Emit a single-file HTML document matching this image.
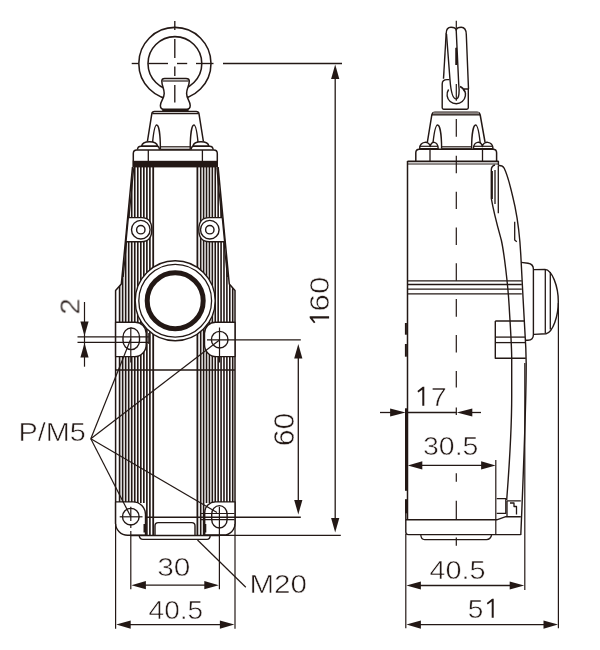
<!DOCTYPE html>
<html><head><meta charset="utf-8"><title>Dimension drawing</title>
<style>
html,body{margin:0;padding:0;background:#fff;}
body{width:600px;height:650px;overflow:hidden;font-family:"Liberation Sans",sans-serif;}
svg{display:block;}
svg text{stroke:#fff;stroke-width:0.55px;fill:#231815;font-family:"Liberation Sans",sans-serif;}
</style></head><body>
<svg width="600" height="650" viewBox="0 0 600 650" fill="none" stroke="#231815" stroke-linecap="butt" stroke-linejoin="round">
<rect x="0" y="0" width="600" height="650" fill="#fff" stroke="none"/>
<circle cx="174.9" cy="63.5" r="36.1" stroke-width="1.55" fill="none"/>
<circle cx="174.9" cy="63.5" r="26.9" stroke-width="1.55" fill="none"/>
<line x1="131.7" y1="63.5" x2="138.3" y2="63.5" stroke-width="1.35" />
<line x1="148.3" y1="63.5" x2="168" y2="63.5" stroke-width="1.35" />
<line x1="177" y1="63.5" x2="187.2" y2="63.5" stroke-width="1.35" />
<line x1="196" y1="63.5" x2="213.5" y2="63.5" stroke-width="1.35" />
<line x1="174.8" y1="21" x2="174.8" y2="30" stroke-width="1.35" />
<line x1="174.8" y1="39" x2="174.8" y2="58" stroke-width="1.35" />
<line x1="174.8" y1="66.5" x2="174.8" y2="76" stroke-width="1.35" />
<path d="M164.6,78.4 L186,78.4 Q189.3,78.4 189.3,81 C189.3,86 186.6,88 186.6,93.5 C186.6,99 190.2,101 190.2,105.5 Q190.2,109.2 186.8,109.2 L163.6,109.2 Q160.4,109.2 160.4,105.5 C160.4,101 164.2,99 164.2,93.5 C164.2,88 161.8,86 161.8,81 Q161.8,78.4 164.6,78.4 Z" stroke-width="1.5" fill="#fff" />
<line x1="162.6" y1="81" x2="188.6" y2="81" stroke-width="1.2" />
<line x1="162.2" y1="110.2" x2="188.6" y2="110.2" stroke-width="2.2" />
<line x1="174.8" y1="85" x2="174.8" y2="102.5" stroke-width="1.35" />
<path d="M154.5,111.6 L196.2,111.6 Q198.6,111.6 199,113.8 L203.4,141.5 M154.5,111.6 Q152.2,111.6 151.8,113.8 L147.4,141.5" stroke-width="1.5" fill="none" />
<line x1="152.4" y1="113.6" x2="198.4" y2="113.6" stroke-width="1.2" />
<path d="M152.2,146.5 C153.4,132 154.8,125 156.7,125 C158.8,125 160.4,135 160.4,149.4" stroke-width="1.4" fill="none" />
<path d="M198.4,146.5 C197.2,132 195.8,125 193.9,125 C191.8,125 190.2,135 190.2,149.4" stroke-width="1.4" fill="none" />
<line x1="160.4" y1="146.8" x2="190.2" y2="146.8" stroke-width="1.2" />
<line x1="160.4" y1="149.3" x2="190.2" y2="149.3" stroke-width="1.2" />
<path d="M141.6,146.2 C142.5,140.2 156.5,140.2 157.6,146.2 Z" stroke-width="1.4" fill="#fff" />
<path d="M192.9,146.2 C194,140.2 208,140.2 208.9,146.2 Z" stroke-width="1.4" fill="#fff" />
<path d="M137.4,149.8 Q137.6,146.2 141,146.2 L157,146.2 Q159.4,146.2 159.4,149.8" stroke-width="1.4" fill="none" />
<path d="M191.2,149.8 Q191.2,146.2 193.6,146.2 L209.6,146.2 Q213,146.2 213.2,149.8" stroke-width="1.4" fill="none" />
<path d="M133.3,161 L133.3,153.5 Q133.3,150 136.8,150 L213.8,150 Q217.3,150 217.3,153.5 L217.3,161" stroke-width="1.5" fill="none" />
<line x1="148.3" y1="150" x2="148.3" y2="161" stroke-width="1.3" />
<line x1="202.4" y1="150" x2="202.4" y2="161" stroke-width="1.3" />
<rect x="132.4" y="160.8" width="85.6" height="6.6" fill="#231815" stroke="none"/>
<clipPath id="bclip"><path d="M132.5,167 L122,277 L121.3,284 L115.6,290.6 L115.6,535.5 L235,535.5 L235,290.6 L229.3,284 L228.6,277 L218.1,167 Z"/></clipPath>
<g clip-path="url(#bclip)">
<line x1="149.9" y1="167" x2="149.9" y2="535" stroke-width="1.65" />
<line x1="200.7" y1="167" x2="200.7" y2="535" stroke-width="1.6" />
<line x1="146.87" y1="167" x2="146.87" y2="535" stroke-width="1.65" />
<line x1="203.61" y1="167" x2="203.61" y2="535" stroke-width="1.6" />
<line x1="143.84" y1="167" x2="143.84" y2="503" stroke-width="1.65" />
<line x1="206.52" y1="167" x2="206.52" y2="503" stroke-width="1.6" />
<line x1="140.81" y1="167" x2="140.81" y2="503" stroke-width="1.65" />
<line x1="209.43" y1="167" x2="209.43" y2="503" stroke-width="1.6" />
<line x1="137.78" y1="167" x2="137.78" y2="503" stroke-width="1.65" />
<line x1="212.34" y1="167" x2="212.34" y2="503" stroke-width="1.6" />
<line x1="134.75" y1="167" x2="134.75" y2="503" stroke-width="1.65" />
<line x1="215.25" y1="167" x2="215.25" y2="503" stroke-width="1.6" />
<line x1="131.72" y1="167" x2="131.72" y2="503" stroke-width="1.65" />
<line x1="218.16" y1="167" x2="218.16" y2="503" stroke-width="1.6" />
<line x1="128.69" y1="167" x2="128.69" y2="503" stroke-width="1.65" />
<line x1="221.07" y1="167" x2="221.07" y2="503" stroke-width="1.6" />
<line x1="125.66" y1="167" x2="125.66" y2="503" stroke-width="1.65" />
<line x1="223.98" y1="167" x2="223.98" y2="503" stroke-width="1.6" />
<line x1="122.63" y1="167" x2="122.63" y2="503" stroke-width="1.65" />
<line x1="226.89" y1="167" x2="226.89" y2="503" stroke-width="1.6" />
<line x1="119.6" y1="167" x2="119.6" y2="503" stroke-width="1.65" />
<line x1="229.8" y1="167" x2="229.8" y2="503" stroke-width="1.6" />
<line x1="232.71" y1="167" x2="232.71" y2="503" stroke-width="1.6" />
</g>
<line x1="153.2" y1="167" x2="153.2" y2="535" stroke-width="1.8" />
<line x1="197.4" y1="167" x2="197.4" y2="535" stroke-width="1.8" />
<path d="M132.5,167 L122,277 L121.3,284 L115.6,290.6 L115.6,524" stroke-width="1.5" fill="none" />
<path d="M218.1,167 L228.6,277 L229.3,284 L235,290.6 L235,524" stroke-width="1.5" fill="none" />
<line x1="133.8" y1="167.5" x2="123.2" y2="277" stroke-width="1.2" />
<line x1="216.8" y1="167.5" x2="227.4" y2="277" stroke-width="1.2" />
<line x1="115.6" y1="370" x2="235" y2="370" stroke-width="1.4" />
<path d="M128.3,217.6 L141.5,217.6 Q151.8,217.6 151.8,229.6 Q151.8,241.8 141.5,241.8 L126,241.8 Z" stroke-width="1.4" fill="#fff" />
<circle cx="140.8" cy="229.7" r="9.3" stroke-width="1.4" fill="none"/>
<circle cx="140.8" cy="229.7" r="4.2" stroke-width="1.4" fill="none"/>
<path d="M222.3,217.6 L209.1,217.6 Q198.8,217.6 198.8,229.6 Q198.8,241.8 209.1,241.8 L224.6,241.8 Z" stroke-width="1.4" fill="#fff" />
<circle cx="209.8" cy="229.7" r="9.3" stroke-width="1.4" fill="none"/>
<circle cx="209.8" cy="229.7" r="4.2" stroke-width="1.4" fill="none"/>
<path d="M115.6,322.3 L135.2,322.3 A11,11 0 0 1 146.2,333.3 L146.2,344.8 A11.8,11.8 0 0 1 134.4,356.6 L115.6,356.6 Z" stroke-width="1.4" fill="#fff" />
<rect x="123" y="328" width="16.5" height="21.6" rx="8.25" ry="9" stroke-width="1.4" fill="none"/>
<path d="M235,322.3 L215.5,322.3 A11,11 0 0 0 204.5,333.3 L204.5,344.8 A11.8,11.8 0 0 0 216.3,356.6 L235,356.6 Z" stroke-width="1.4" fill="#fff" />
<circle cx="219.7" cy="339.7" r="8.3" stroke-width="1.4" fill="none"/>
<path d="M115.6,501.9 L133,501.9 A12.5,12.5 0 0 1 145.5,514.4 L145.5,535.3 L127.6,535.3 A12,12 0 0 1 115.6,523.3 Z" stroke-width="1.4" fill="#fff" />
<circle cx="130.8" cy="516.7" r="8.3" stroke-width="1.4" fill="none"/>
<path d="M235,501.9 L215.5,501.9 A10.8,10.8 0 0 0 204.7,512.7 L204.7,535 L223.6,535 A11.4,11.4 0 0 0 235,523.6 Z" stroke-width="1.4" fill="#fff" />
<rect x="211.7" y="505.6" width="15.4" height="22.4" rx="7.7" ry="8.6" stroke-width="1.4" fill="none"/>
<circle cx="175.2" cy="300.8" r="40" stroke-width="1.4" fill="#fff"/>
<circle cx="175.2" cy="300.8" r="36.4" stroke-width="1.3" fill="none"/>
<circle cx="175.2" cy="300.8" r="28" stroke-width="5.0" fill="none"/>
<path d="M155,535.3 L155,525.8 Q155,522.6 158.2,522.6 L191.8,522.6 Q195,522.6 195,525.8 L195,535.3" stroke-width="1.4" fill="none" />
<line x1="130.8" y1="535.4" x2="220" y2="535.4" stroke-width="1.5" />
<path d="M139.2,535.6 Q139.6,539.3 143,539.3 L207,539.3 Q210,539.3 210.2,535.6" stroke-width="1.3" fill="none" />
<line x1="144.4" y1="524" x2="144.4" y2="532.5" stroke-width="1.8" />
<line x1="205.4" y1="524" x2="205.4" y2="532.5" stroke-width="1.8" />
<line x1="130.8" y1="327.5" x2="130.8" y2="362.5" stroke-width="1.2" />
<line x1="219.5" y1="327.5" x2="219.5" y2="362.5" stroke-width="1.2" />
<line x1="207" y1="339.8" x2="300.8" y2="339.8" stroke-width="1.2" />
<line x1="119.7" y1="516.8" x2="142.5" y2="516.8" stroke-width="1.2" />
<line x1="130.8" y1="506.7" x2="130.8" y2="521" stroke-width="1.2" />
<line x1="130.8" y1="524" x2="130.8" y2="528" stroke-width="1.2" />
<line x1="130.8" y1="531" x2="130.8" y2="589.2" stroke-width="1.2" />
<line x1="219.4" y1="506.7" x2="219.4" y2="589.2" stroke-width="1.2" />
<line x1="200" y1="513.5" x2="234.5" y2="513.5" stroke-width="1.2" />
<line x1="200" y1="519.6" x2="234.5" y2="519.6" stroke-width="1.2" />
<line x1="145.8" y1="517.2" x2="300.8" y2="517.2" stroke-width="1.4" />
<line x1="223" y1="63.5" x2="342" y2="63.5" stroke-width="1.3" />
<line x1="335.2" y1="70" x2="335.2" y2="528" stroke-width="1.3" />
<polygon points="335.2,64.6 331.09999999999997,79.1 339.3,79.1" fill="#231815" stroke="none"/>
<polygon points="335.2,532.6 331.09999999999997,518.1 339.3,518.1" fill="#231815" stroke="none"/>
<line x1="220" y1="535.4" x2="340.8" y2="535.4" stroke-width="1.2" />
<line x1="298.3" y1="350" x2="298.3" y2="508" stroke-width="1.3" />
<polygon points="298.3,344 294.2,358.5 302.40000000000003,358.5" fill="#231815" stroke="none"/>
<polygon points="298.3,514.4 294.2,499.9 302.40000000000003,499.9" fill="#231815" stroke="none"/>
<line x1="84.5" y1="302" x2="84.5" y2="366.7" stroke-width="1.2" />
<polygon points="84.5,336 80.4,321.5 88.6,321.5" fill="#231815" stroke="none"/>
<polygon points="84.5,343 80.4,357.5 88.6,357.5" fill="#231815" stroke="none"/>
<line x1="77.5" y1="336.9" x2="148.8" y2="336.9" stroke-width="1.2" />
<line x1="77.5" y1="342.4" x2="148.8" y2="342.4" stroke-width="1.2" />
<line x1="148.8" y1="333" x2="148.8" y2="344" stroke-width="1.2" />
<line x1="140" y1="585.2" x2="210" y2="585.2" stroke-width="1.3" />
<polygon points="131.4,585.2 145.9,581.1 145.9,589.3000000000001" fill="#231815" stroke="none"/>
<polygon points="218.8,585.2 204.3,581.1 204.3,589.3000000000001" fill="#231815" stroke="none"/>
<line x1="115.6" y1="524" x2="115.6" y2="628.7" stroke-width="1.2" />
<line x1="235" y1="524" x2="235" y2="628.7" stroke-width="1.2" />
<line x1="125" y1="624.6" x2="226" y2="624.6" stroke-width="1.3" />
<polygon points="116.2,624.6 130.7,620.5 130.7,628.7" fill="#231815" stroke="none"/>
<polygon points="234.4,624.6 219.9,620.5 219.9,628.7" fill="#231815" stroke="none"/>
<line x1="90.8" y1="438.8" x2="130.8" y2="339" stroke-width="1.2" />
<line x1="90.8" y1="438.8" x2="219.5" y2="340" stroke-width="1.2" />
<line x1="90.8" y1="438.8" x2="217" y2="512.5" stroke-width="1.2" />
<line x1="90.8" y1="438.8" x2="130.8" y2="516.7" stroke-width="1.2" />
<line x1="197.5" y1="540" x2="245.8" y2="587.3" stroke-width="1.2" />
<line x1="456.3" y1="20.8" x2="456.3" y2="28.3" stroke-width="1.2" />
<line x1="456.3" y1="47.5" x2="456.3" y2="65" stroke-width="1.2" />
<line x1="456.3" y1="84" x2="456.3" y2="100.8" stroke-width="1.2" />
<line x1="456.3" y1="119" x2="456.3" y2="136.7" stroke-width="1.2" />
<line x1="456.3" y1="155.8" x2="456.3" y2="173.3" stroke-width="1.2" />
<line x1="456.3" y1="191.7" x2="456.3" y2="209" stroke-width="1.2" />
<line x1="456.3" y1="227.5" x2="456.3" y2="245" stroke-width="1.2" />
<line x1="456.3" y1="263.3" x2="456.3" y2="280.8" stroke-width="1.2" />
<line x1="456.3" y1="299" x2="456.3" y2="316.7" stroke-width="1.2" />
<line x1="456.3" y1="335" x2="456.3" y2="352.5" stroke-width="1.2" />
<line x1="456.3" y1="371" x2="456.3" y2="387.5" stroke-width="1.2" />
<line x1="456.3" y1="407.5" x2="456.3" y2="415" stroke-width="1.2" />
<line x1="456.3" y1="473.3" x2="456.3" y2="481.7" stroke-width="1.2" />
<line x1="456.3" y1="500.8" x2="456.3" y2="519.2" stroke-width="1.2" />
<line x1="456.3" y1="537.5" x2="456.3" y2="545.8" stroke-width="1.2" />
<path d="M442.2,107.8 L442.2,84 Q442.2,79.6 447,79.6 L449.5,79.6 M464,89 L468.3,89 L468.3,107.8 Q468.3,109.2 466.9,109.2 L443.6,109.2 Q442.2,109.2 442.2,107.8" stroke-width="1.4" fill="none" />
<path d="M448.6,89.5 A9.2,9.2 0 1 0 464,89.6" stroke-width="1.4" fill="none" />
<path d="M460,86.5 A9.2,9.2 0 0 1 465,92" stroke-width="1.4" fill="none" />
<path d="M446.2,33.5 C446.2,29.4 448.4,27.3 451,27.3 C453.8,27.3 455.7,28.4 456.2,30 C456.7,28.4 458.6,27.3 461.2,27.3 C464.2,27.3 466.2,30 466.3,34.5 L468.5,89" stroke-width="1.4" fill="none" />
<line x1="446.2" y1="33" x2="443.5" y2="78.8" stroke-width="1.4" />
<path d="M446.5,34 L450,80 C450.8,90 452.2,98.9 456,98.9 C459.4,98.9 459.5,91 458.7,84 L456.2,30" stroke-width="1.4" fill="none" />
<line x1="456.2" y1="48" x2="456.2" y2="65" stroke-width="1.7" />
<path d="M435,112.2 L477,112.2 Q479.6,112.2 480.2,115 L485,142 M435,112.2 Q432.4,112.2 431.8,115 L427.4,142" stroke-width="1.5" fill="none" />
<rect x="433.2" y="112.2" width="45.8" height="2.6" fill="#8a8380" stroke="none"/>
<line x1="432" y1="114.9" x2="480" y2="114.9" stroke-width="1.2" />
<path d="M432.6,146.8 C434,132 435.6,125 437.6,125 C439.8,125 441.6,135 441.6,148.8" stroke-width="1.4" fill="none" />
<path d="M480.6,146.8 C479.2,132 477.6,125 475.6,125 C473.4,125 471.6,135 471.6,148.8" stroke-width="1.4" fill="none" />
<line x1="441.6" y1="146.8" x2="471.6" y2="146.8" stroke-width="1.2" />
<line x1="441.6" y1="148.8" x2="471.6" y2="148.8" stroke-width="1.2" />
<path d="M419.6,148.6 C420,140.6 429.6,140.6 430.2,146.5 C431,140.6 437.6,140.6 438.2,148.6 Z" stroke-width="1.4" fill="#fff" />
<path d="M473.4,148.6 C474,140.6 481,140.6 482.4,146.5 C483,140.6 492.6,140.6 493,148.6 Z" stroke-width="1.4" fill="#fff" />
<line x1="419.6" y1="146.3" x2="438.2" y2="146.3" stroke-width="1.2" />
<line x1="473.4" y1="146.3" x2="493" y2="146.3" stroke-width="1.2" />
<path d="M415.8,161 L415.8,152.8 Q415.8,149.2 419.4,149.2 L493,149.2 Q496.6,149.2 496.6,152.8 L496.6,161" stroke-width="1.5" fill="none" />
<line x1="430" y1="149.2" x2="430" y2="161" stroke-width="1.3" />
<line x1="482.5" y1="149.2" x2="482.5" y2="161" stroke-width="1.3" />
<line x1="407.5" y1="161.4" x2="498.6" y2="161.4" stroke-width="1.8" />
<line x1="407.5" y1="164" x2="498" y2="164" stroke-width="1.2" />
<line x1="498.4" y1="161" x2="498.4" y2="165" stroke-width="1.4" />
<line x1="407.5" y1="161" x2="407.5" y2="520" stroke-width="1.5" />
<line x1="407.5" y1="280.8" x2="521.8" y2="280.8" stroke-width="1.3" />
<line x1="407.5" y1="284.5" x2="521.8" y2="284.5" stroke-width="1.3" />
<line x1="407.5" y1="289.1" x2="521.8" y2="289.1" stroke-width="1.3" />
<line x1="407.5" y1="293.8" x2="521.8" y2="293.8" stroke-width="1.3" />
<line x1="405.9" y1="323" x2="405.9" y2="334.7" stroke-width="2.0" />
<line x1="405.9" y1="344" x2="405.9" y2="356.7" stroke-width="2.0" />
<line x1="406.3" y1="408.3" x2="406.3" y2="490.8" stroke-width="2.6" />
<line x1="406.3" y1="499.2" x2="406.3" y2="513.3" stroke-width="2.6" />
<path d="M405.8,513 L405.8,519.8 L496.7,519.8 L505.8,516.7 L520.8,516.7" stroke-width="1.4" fill="none" />
<path d="M405.8,519.8 L405.8,532 Q405.8,534.6 408.4,534.6 L520.8,534.6" stroke-width="1.4" fill="none" />
<path d="M420.8,535 Q421.2,539.6 424.6,539.6 L486.5,539.6 Q490.6,539.6 491.6,535" stroke-width="1.3" fill="none" />
<line x1="405.8" y1="534" x2="405.8" y2="628.3" stroke-width="1.2" />
<path d="M495,165 Q491.3,166 491.3,170 L491.3,198.3 C494,214 498,228 501.3,240 C504,252 508,285 509.2,306.7 C510.2,325 511.7,345 511.7,358.3 L511.7,396.7 C511.7,420 509,470 506.7,500" stroke-width="1.4" fill="none" />
<path d="M498.3,165.6 Q502.6,165.2 504.2,168.3 C507,174 512.5,195 515,206.7 C517.5,219 519.8,236 520.8,255 C522,280 524.8,330 525.8,348 L526.2,363.3 C526.2,400 524,460 520.8,535" stroke-width="1.4" fill="none" />
<path d="M495,170 L495,204" stroke-width="1.3" fill="none" />
<line x1="492.3" y1="171" x2="492.3" y2="199" stroke-width="1.2" />
<path d="M498.3,165.6 L498.3,213.3" stroke-width="1.3" fill="none" />
<path d="M514.7,221.7 L514.7,240 L516.8,241.8" stroke-width="1.3" fill="none" />
<path d="M521.2,262.4 L528,263.2 Q533.4,264 533.4,269 L533.4,334.5 Q533.4,340.2 528,340.2 L525.4,340.2" stroke-width="1.4" fill="none" />
<path d="M534,269.6 L545,269.4 C552,270 558.3,286 558.3,301.7 C558.3,316 553,332 546,333.8 L534,334.4" stroke-width="1.4" fill="none" />
<line x1="545.3" y1="269.6" x2="545.3" y2="333.6" stroke-width="1.3" />
<line x1="550.3" y1="272" x2="550.3" y2="329.5" stroke-width="1.3" />
<line x1="558.4" y1="303" x2="558.4" y2="628.3" stroke-width="1.2" />
<line x1="524.8" y1="363" x2="524.8" y2="590" stroke-width="1.2" />
<path d="M495.3,321 L524.4,321 M495.3,321 L495.3,358.2 L525.8,358.2" stroke-width="1.4" fill="none" />
<line x1="495.3" y1="337.1" x2="525" y2="337.1" stroke-width="1.3" />
<line x1="495.3" y1="342.6" x2="525.2" y2="342.6" stroke-width="1.3" />
<line x1="495.8" y1="460" x2="495.8" y2="535" stroke-width="1.2" />
<path d="M496.7,498.7 L505.8,498.7 L505.8,513.3 L496.7,513.3" stroke-width="1.3" fill="none" />
<path d="M507,500.8 L520.8,500.8 M507,500.8 L507,516.7 M510,503 L514,503 L514,506.5 L516.5,506.5 L516.5,514.5" stroke-width="1.3" fill="none" />
<line x1="380" y1="412.5" x2="395" y2="412.5" stroke-width="1.3" />
<line x1="405.8" y1="412.5" x2="456.6" y2="412.5" stroke-width="1.3" />
<line x1="470" y1="412.5" x2="481" y2="412.5" stroke-width="1.3" />
<polygon points="405.6,412.5 390.1,408.6 390.1,416.4" fill="#231815" stroke="none"/>
<polygon points="456.8,412.5 472.3,408.6 472.3,416.4" fill="#231815" stroke="none"/>
<line x1="415" y1="465.4" x2="488" y2="465.4" stroke-width="1.3" />
<polygon points="407.8,465.4 422.3,461.29999999999995 422.3,469.5" fill="#231815" stroke="none"/>
<polygon points="495.6,465.4 481.1,461.29999999999995 481.1,469.5" fill="#231815" stroke="none"/>
<line x1="415" y1="585.5" x2="516" y2="585.5" stroke-width="1.3" />
<polygon points="406.4,585.5 420.9,581.4 420.9,589.6" fill="#231815" stroke="none"/>
<polygon points="524.2,585.5 509.70000000000005,581.4 509.70000000000005,589.6" fill="#231815" stroke="none"/>
<line x1="415" y1="624.6" x2="550" y2="624.6" stroke-width="1.3" />
<polygon points="406.4,624.6 420.9,620.5 420.9,628.7" fill="#231815" stroke="none"/>
<polygon points="558,624.6 543.5,620.5 543.5,628.7" fill="#231815" stroke="none"/>
<g opacity="0.999">
<path d="M10.1,-19.4 L10.1,0 L7.8999999999999995,0 L7.8999999999999995,-16.5 L4.1,-13.7 L3.2,-15.1 L8.5,-19.4 Z" fill="#231815" style="stroke:none" transform="translate(329.1,326.4) rotate(-90)"/>
<text x="329.0" y="311.5" font-size="28" textLength="34.8" lengthAdjust="spacingAndGlyphs" transform="rotate(-90 329.0 311.5)">60</text>
<text x="293.7" y="446.2" font-size="29.6" textLength="33.6" lengthAdjust="spacingAndGlyphs" transform="rotate(-90 293.7 446.2)">60</text>
<text x="79" y="314.6" font-size="28" textLength="16.4" lengthAdjust="spacingAndGlyphs" transform="rotate(-90 79 314.6)">2</text>
<text x="18.4" y="441.0" font-size="26.6" textLength="67.4" lengthAdjust="spacingAndGlyphs">P/M5</text>
<text x="157.2" y="576.1" font-size="26.6" textLength="33.2" lengthAdjust="spacingAndGlyphs">30</text>
<text x="148.6" y="619" font-size="26.6" textLength="54.6" lengthAdjust="spacingAndGlyphs">40.5</text>
<text x="249.4" y="593.4" font-size="26.6" textLength="57.6" lengthAdjust="spacingAndGlyphs">M20</text>
<path d="M424.3,386.8 L424.3,405.8 L422.3,405.8 L422.3,389.7 L418.3,392.5 L417.4,391.1 L422.7,386.8 Z" fill="#231815" style="stroke:none" />
<text x="430.7" y="406" font-size="26.6" textLength="15.9" lengthAdjust="spacingAndGlyphs">7</text>
<text x="423" y="455.2" font-size="26.6" textLength="55.4" lengthAdjust="spacingAndGlyphs">30.5</text>
<text x="429.4" y="578.8" font-size="26.6" textLength="56.2" lengthAdjust="spacingAndGlyphs">40.5</text>
<text x="467.8" y="617.9" font-size="26.6" textLength="15.6" lengthAdjust="spacingAndGlyphs">5</text>
<path d="M493.7,598.7 L493.7,617.7 L491.7,617.7 L491.7,601.6 L487.7,604.4 L486.8,603.0 L492.1,598.7 Z" fill="#231815" style="stroke:none" />
</g>
</svg>
</body></html>
